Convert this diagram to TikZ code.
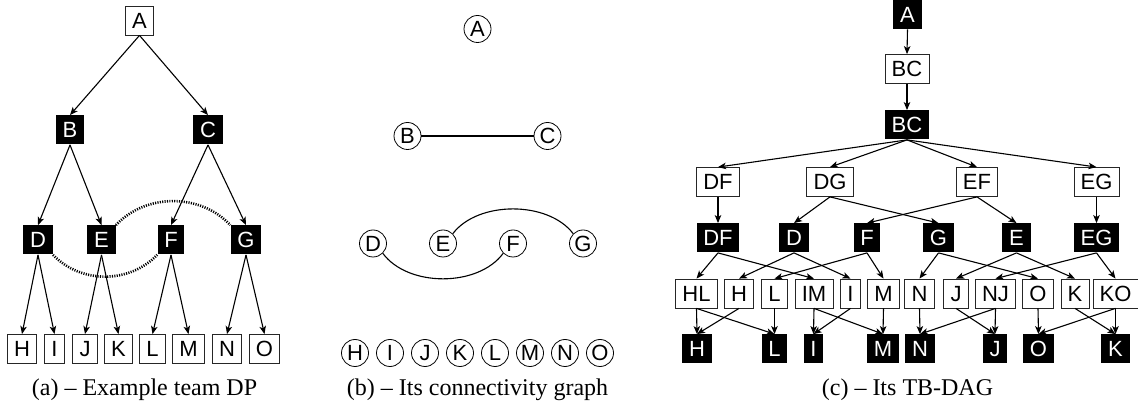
\documentclass[tikz,border=0pt]{standalone}
\usepackage{fontspec}
\newfontfamily\labfont{Liberation Sans}
\newfontfamily\capfont[Ligatures=TeX]{Liberation Serif}
\usetikzlibrary{arrows.meta}
\begin{document}
\begin{tikzpicture}[x=1pt,y=-1pt,
  base/.style={font=\labfont\fontsize{22}{26}\selectfont, minimum height=29pt, inner xsep=6.7pt, inner ysep=0pt, text height=15.8pt, text depth=0pt, line width=0.8pt},
  wbox/.style={base, draw=black!85, fill=white, text=black},
  bbox/.style={base, fill=black, text=white},
  cnode/.style={circle, draw, line width=0.8pt, minimum size=27pt, inner sep=0pt, font=\labfont\fontsize{22}{26}\selectfont, text height=15.8pt, text depth=0pt},
  arr/.style={line width=1.1pt, -{Stealth[length=8pt,width=6.5pt,inset=2pt]}},
  dotc/.style={line width=2.6pt, dash pattern=on 1.1pt off 1.3pt},
  plain/.style={line width=1.1pt},
  captxt/.style={font=\capfont\fontsize{24}{28}\selectfont, inner sep=0pt}
]
\useasboundingbox (0,0) rectangle (1138,411);

% ---------- (a) ----------
\node[wbox] (aA) at (139.5,20.5) {A};
\node[bbox] (aB) at (70,130) {B};
\node[bbox] (aC) at (208,130) {C};
\node[bbox] (aD) at (38,240) {D};
\node[bbox] (aE) at (101.5,240) {E};
\node[bbox] (aF) at (171,240) {F};
\node[bbox] (aG) at (246,240) {G};
\node[wbox] (aH) at (22,349) {H};
\node[wbox] (aI) at (54.5,349) {I};
\node[wbox] (aJ) at (85,349) {J};
\node[wbox] (aK) at (118.5,349) {K};
\node[wbox] (aL) at (152.5,349) {L};
\node[wbox] (aM) at (188.5,349) {M};
\node[wbox] (aN) at (227,349) {N};
\node[wbox] (aO) at (264.5,349) {O};
\foreach \s/\t in {aA/aB,aA/aC,aB/aD,aB/aE,aC/aF,aC/aG,aD/aH,aD/aI,aE/aJ,aE/aK,aF/aL,aF/aM,aG/aN,aG/aO}
  \draw[arr] (\s.south) -- (\t.north);
\draw[dotc] (aE.north east) .. controls +(30,-32) and +(-30,-32) .. (aG.north west);
\draw[dotc] (aD.south east) .. controls +(28,29) and +(-28,29) .. (aF.south west);
\node[captxt] (capa) at (144.5,390) {(a) \textendash{} Example team DP};

% ---------- (b) ----------
\node[cnode] (bA) at (477.5,29) {A};
\node[cnode] (bB) at (407.5,136) {B};
\node[cnode] (bC) at (547.5,136) {C};
\node[cnode] (bD) at (373,243.5) {D};
\node[cnode] (bE) at (443,243.5) {E};
\node[cnode] (bF) at (513,243.5) {F};
\node[cnode] (bG) at (583,243.5) {G};
\foreach \l [count=\i from 0] in {H,I,J,K,L,M,N,O}
  \node[cnode] (b\l) at (355+35*\i,353) {\l};
\draw[plain] (bB.east) -- (bC.west);
\draw[plain] (bE.45) .. controls +(25,-33) and +(-25,-33) .. (bG.135);
\draw[plain] (bD.-45) .. controls +(25,34) and +(-25,34) .. (bF.-135);
\node[captxt] (capb) at (477.5,390) {(b) \textendash{} Its connectivity graph};

% ---------- (c) ----------
\node[bbox] (cA) at (907.5,14.5) {A};
\node[wbox] (cBCw) at (907,69) {BC};
\node[bbox] (cBCb) at (907,125) {BC};
\node[wbox] (cDFw) at (718,182) {DF};
\node[wbox] (cDG) at (830,182) {DG};
\node[wbox] (cEF) at (977,182) {EF};
\node[wbox] (cEGw) at (1096.5,182) {EG};
\node[bbox] (cDFb) at (718,238) {DF};
\node[bbox] (cD) at (794,238) {D};
\node[bbox] (cF) at (867,238) {F};
\node[bbox] (cG) at (938.5,238) {G};
\node[bbox] (cE) at (1016.5,238) {E};
\node[bbox] (cEGb) at (1096.5,238) {EG};
\node[wbox] (cHL) at (696.5,293.5) {HL};
\node[wbox] (cHw) at (739,293.5) {H};
\node[wbox] (cLw) at (774.5,293.5) {L};
\node[wbox] (cIM) at (814,293.5) {IM};
\node[wbox] (cIw) at (850.5,293.5) {I};
\node[wbox] (cMw) at (883.5,293.5) {M};
\node[wbox] (cNw) at (919.5,293.5) {N};
\node[wbox] (cJw) at (956,293.5) {J};
\node[wbox] (cNJ) at (995.5,293.5) {NJ};
\node[wbox] (cOw) at (1038,293.5) {O};
\node[wbox] (cKw) at (1075,293.5) {K};
\node[wbox] (cKO) at (1115.5,293.5) {KO};
\node[bbox] (cHb) at (697,349) {H};
\node[bbox] (cLb) at (774.5,349) {L};
\node[bbox] (cIb) at (813.5,349) {I};
\node[bbox] (cMb) at (883,349) {M};
\node[bbox] (cNb) at (920,349) {N};
\node[bbox] (cJb) at (995,349) {J};
\node[bbox] (cOb) at (1038.5,349) {O};
\node[bbox] (cKb) at (1115.5,349) {K};
\foreach \s/\t in {cA/cBCw,cBCw/cBCb,cBCb/cDFw,cBCb/cDG,cBCb/cEF,cBCb/cEGw,
  cDFw/cDFb,cDG/cD,cDG/cG,cEF/cF,cEF/cE,cEGw/cEGb,
  cDFb/cHL,cDFb/cIM,cD/cHw,cD/cIw,cF/cLw,cF/cMw,cG/cNw,cG/cOw,cE/cJw,cE/cKw,cEGb/cNJ,cEGb/cKO,
  cHL/cHb,cHL/cLb,cHw/cHb,cLw/cLb,cIM/cIb,cIM/cMb,cIw/cIb,cMw/cMb,
  cNw/cNb,cJw/cJb,cNJ/cNb,cNJ/cJb,cOw/cOb,cKw/cKb,cKO/cOb,cKO/cKb}
  \draw[arr] (\s.south) -- (\t.north);
\node[captxt] (capc) at (907.5,390) {(c) \textendash{} Its TB-DAG};
\end{tikzpicture}
\end{document}
